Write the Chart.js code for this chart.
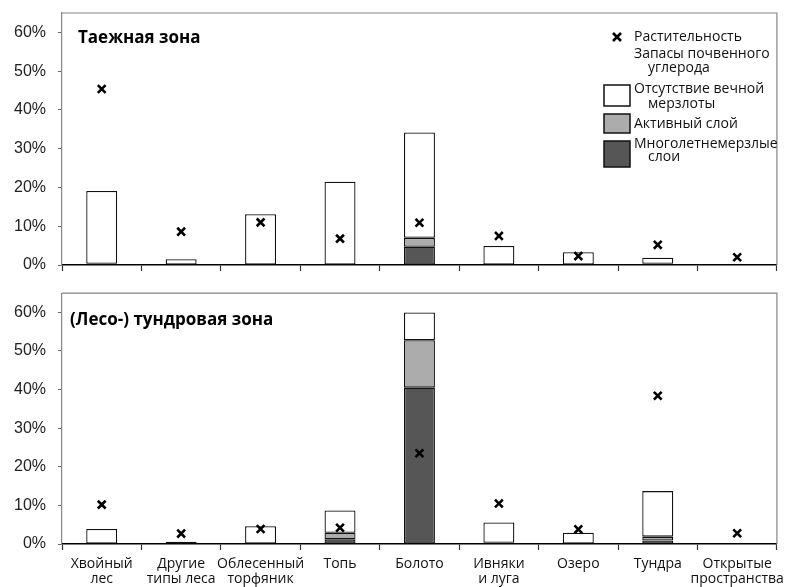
<!DOCTYPE html>
<html>
<head>
<meta charset="utf-8">
<script src="https://cdn.jsdelivr.net/npm/chart.js@4"></script>
<style>
  body { margin: 0; background: #fff; }
  canvas { position: absolute; left: 0; }
</style>
</head>
<body>
<canvas id="taiga" width="785" height="285" style="top:0"></canvas>
<canvas id="tundra" width="785" height="302" style="top:285px"></canvas>
<script>
// Landscape classes (x axis)
const categories = [
  ['Хвойный', 'лес'], ['Другие', 'типы леса'], ['Облесенный', 'торфяник'],
  ['Топь'], ['Болото'], ['Ивняки', 'и луга'], ['Озеро'], ['Тундра'],
  ['Открытые', 'пространства']
];
const yTicks = [0, 10, 20, 30, 40, 50, 60];

// Taiga zone, % of total
const taigaPermafrost = [0.3, 0, 0, 0, 4.7, 0, 0, 0.3, 0];
const taigaActive     = [0, 0, 0, 0, 2.3, 0, 0, 0, 0];
const taigaNoPerma    = [18.8, 1.5, 13.1, 21.5, 27.2, 4.9, 3.3, 1.6, 0];
const taigaVegetation = [45.4, 8.6, 11.0, 6.8, 10.9, 7.5, 2.3, 5.2, 2.0];

// (Forest-) tundra zone, % of total
const tundraPermafrost = [0, 0, 0, 1.2, 40.5, 0.3, 0, 0.9, 0];
const tundraActive     = [0, 0, 0, 1.7, 12.3, 0, 0, 1.0, 0];
const tundraNoPerma    = [3.9, 0.6, 4.6, 5.8, 7.2, 5.3, 2.9, 11.8, 0];
const tundraVegetation = [10.2, 2.7, 3.9, 4.2, 23.5, 10.5, 3.8, 38.4, 2.8];

const seriesNames = {
  veg: 'Растительность',
  soil: ['Запасы почвенного', 'углерода'],
  none: ['Отсутствие вечной', 'мерзлоты'],
  active: ['Активный слой'],
  perma: ['Многолетнемерзлые', 'слои']
};

const FILL = { perma: '#565656', active: '#acacac', none: '#ffffff' };
const TEXT_FONT = "'Open Sans', 'Noto Sans', sans-serif";

const nz = arr => arr.map(v => (v ? v : null));

function barSet(label, data, color) {
  return {
    type: 'bar', label, data: nz(data), backgroundColor: color,
    borderColor: '#111', borderWidth: 1.3, borderSkipped: false,
    barPercentage: 0.39, categoryPercentage: 1, order: 1, stack: 'soil'
  };
}

// box around the plot area (top and right sides) and panel caption
const framePlugin = {
  id: 'frame',
  afterDraw(chart, args, opts) {
    const { ctx, chartArea: a } = chart;
    ctx.save();
    ctx.strokeStyle = '#858585';
    ctx.lineWidth = 1.2;
    ctx.beginPath();
    ctx.moveTo(a.left, a.top);
    ctx.lineTo(a.right, a.top);
    ctx.lineTo(a.right, a.bottom);
    ctx.stroke();
    ctx.fillStyle = '#000';
    ctx.font = "bold 17px " + TEXT_FONT;
    ctx.textBaseline = 'middle';
    ctx.fillText(opts.caption, opts.cx, opts.cy);
    ctx.restore();
  }
};

// legend block in the upper panel
const legendPlugin = {
  id: 'zoneLegend',
  afterDraw(chart, args, opts) {
    if (!opts.show) return;
    const { ctx } = chart;
    ctx.save();
    ctx.font = "14px " + TEXT_FONT;
    ctx.fillStyle = '#111';
    ctx.textBaseline = 'middle';
    // cross marker
    ctx.strokeStyle = '#000';
    ctx.lineWidth = 2.6;
    const mx = 617, my = 37, r = 4;
    ctx.beginPath();
    ctx.moveTo(mx - r, my - r); ctx.lineTo(mx + r, my + r);
    ctx.moveTo(mx + r, my - r); ctx.lineTo(mx - r, my + r);
    ctx.stroke();
    ctx.fillText(seriesNames.veg, 634, 37);
    ctx.fillText(seriesNames.soil[0], 634, 54);
    ctx.fillText(seriesNames.soil[1], 648, 68);
    const boxes = [
      { c: FILL.none, y: 85, h: 21, t: seriesNames.none, ty: [89, 104] },
      { c: FILL.active, y: 114, h: 19, t: seriesNames.active, ty: [124] },
      { c: FILL.perma, y: 141, h: 26, t: seriesNames.perma, ty: [144, 157] }
    ];
    ctx.lineWidth = 1.5;
    ctx.strokeStyle = '#111';
    boxes.forEach(b => {
      ctx.fillStyle = b.c;
      ctx.fillRect(604, b.y, 26, b.h);
      ctx.strokeRect(604, b.y, 26, b.h);
      ctx.fillStyle = '#111';
      b.t.forEach((line, i) => ctx.fillText(line, i === 0 ? 634 : 648, b.ty[i]));
    });
    ctx.restore();
  }
};

function noPad(s) {
  s.paddingTop = 0; s.paddingBottom = 0; s.paddingLeft = 0; s.paddingRight = 0;
}

function makeChart(id, perma, active, none, veg, opt) {
  return new Chart(document.getElementById(id), {
    data: {
      labels: categories,
      datasets: [
        barSet(seriesNames.perma.join(' '), perma, FILL.perma),
        barSet(seriesNames.active[0], active, FILL.active),
        barSet(seriesNames.none.join(' '), none, FILL.none),
        {
          type: 'line', label: seriesNames.veg, data: veg, showLine: false,
          pointStyle: 'crossRot', pointRadius: 5.5, pointBorderWidth: 2.6,
          pointBorderColor: '#000', borderColor: '#000', order: 0, stack: 'veg'
        }
      ]
    },
    options: {
      responsive: false,
      devicePixelRatio: 1,
      animation: false,
      layout: { padding: opt.padding },
      plugins: {
        legend: { display: false },
        tooltip: { enabled: false },
        frame: { caption: opt.caption, cx: opt.cx, cy: opt.cy },
        zoneLegend: { show: opt.legend }
      },
      scales: {
        x: {
          type: 'category', stacked: true, offset: true,
          grid: { offset: true, drawOnChartArea: false, tickLength: 6, tickColor: '#333', tickWidth: 1.2 },
          border: { color: '#000', width: 1.6 },
          ticks: {
            display: opt.showLabels, maxRotation: 0, autoSkip: false, padding: 7,
            color: '#111',
            font: { family: TEXT_FONT, size: 14, lineHeight: 1.05 }
          },
          afterFit: s => { s.height = opt.xHeight; noPad(s); }
        },
        y: {
          stacked: true, min: 0, max: 65,
          afterBuildTicks: s => { s.ticks = yTicks.map(v => ({ value: v })); },
          grid: { drawOnChartArea: false, tickLength: 4, tickColor: '#666' },
          border: { color: '#858585', width: 1.2 },
          ticks: {
            padding: 12, color: '#222',
            font: { family: "'Liberation Sans', Arial, sans-serif", size: 16 },
            callback: v => v + '%'
          },
          afterFit: s => { s.width = 62; noPad(s); }
        }
      }
    },
    plugins: [framePlugin, legendPlugin]
  });
}

makeChart('taiga', taigaPermafrost, taigaActive, taigaNoPerma, taigaVegetation, {
  padding: { top: 13, right: 8, bottom: 10, left: 0 },
  xHeight: 10, showLabels: false, legend: true,
  caption: 'Таежная зона', cx: 78, cy: 38
});

makeChart('tundra', tundraPermafrost, tundraActive, tundraNoPerma, tundraVegetation, {
  padding: { top: 7, right: 8, bottom: 0, left: 0 },
  xHeight: 43, showLabels: true, legend: false,
  caption: '(Лесо-) тундровая зона', cx: 70, cy: 35
});
</script>
</body>
</html>
